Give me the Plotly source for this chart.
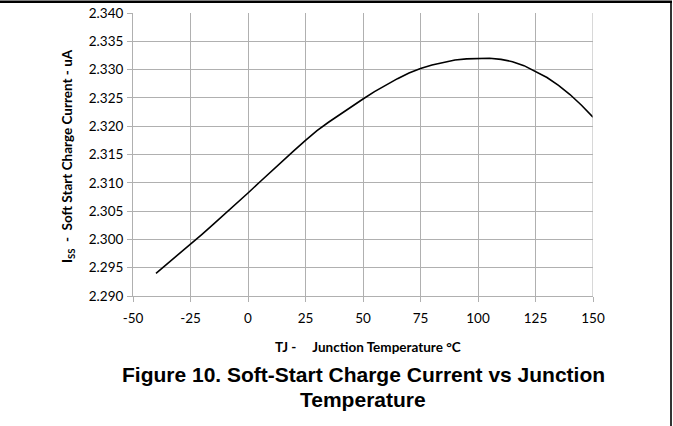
import plotly.graph_objects as go

temps = [-40, -35, -30, -25, -20, -15, -10, -5, 0, 5, 10, 15, 20, 25, 30, 35, 40, 45,
         50, 55, 60, 65, 70, 75, 80, 85, 90, 95, 100, 105, 110, 115, 120, 125, 130,
         135, 140, 145, 150]
iss = [2.2940, 2.2957, 2.2974, 2.2991, 2.3009, 2.3027, 2.3045, 2.3063, 2.3082, 2.3101,
       2.3120, 2.3138, 2.3157, 2.3175, 2.3192, 2.3207, 2.3221, 2.3235, 2.3248, 2.3261,
       2.3273, 2.3284, 2.3294, 2.3302, 2.3308, 2.3313, 2.3317, 2.3319, 2.3320, 2.3320,
       2.3318, 2.3314, 2.3307, 2.3297, 2.3286, 2.3272, 2.3256, 2.3237, 2.3216]

x_ticks = [-50, -25, 0, 25, 50, 75, 100, 125, 150]
y_ticks = [2.290, 2.295, 2.300, 2.305, 2.310, 2.315, 2.320, 2.325, 2.330, 2.335, 2.340]

W, H = 673, 426
L, R, T, B = 133, 80, 13, 130
pw, ph = W - L - R, H - T - B

def px(X):
    return (X - L) / pw

def py(Y):
    return (H - B - Y) / ph

fig = go.Figure()
fig.add_trace(go.Scatter(x=temps, y=iss, mode="lines",
                         line=dict(color="black", width=1.6), showlegend=False))

grid = "#b0b0b0"
tickfont = dict(family="Lato, Carlito, sans-serif", size=13.5, color="black")
fig.update_xaxes(range=[-50, 150], tickvals=x_ticks, ticktext=[str(v) for v in x_ticks],
                 showgrid=True, gridcolor=grid, gridwidth=1,
                 showline=True, linecolor=grid, linewidth=1,
                 ticks="outside", ticklen=5, tickcolor=grid, tickfont=tickfont,
                 ticklabelstandoff=5,
                 zeroline=False, fixedrange=True)
fig.update_yaxes(range=[2.290, 2.340], tickvals=y_ticks,
                 ticktext=[f"{v:.3f}" for v in y_ticks],
                 showgrid=True, gridcolor=grid, gridwidth=1,
                 showline=True, linecolor=grid, linewidth=1,
                 ticks="outside", ticklen=5, tickcolor=grid, tickfont=tickfont,
                 ticklabelstandoff=1,
                 zeroline=False, fixedrange=True)

# right-hand grid edge
fig.add_shape(type="line", xref="x", yref="paper", x0=150, x1=150, y0=0, y1=1,
              line=dict(color=grid, width=1))

title_font = dict(family="Lato, Carlito, sans-serif", size=13.5, color="black", weight=700)
# y axis title
fig.add_annotation(xref="paper", yref="paper", x=px(68), y=py(156),
                   text="I<sub>SS</sub>  -  Soft Start Charge Current - uA",
                   textangle=-90, showarrow=False, xanchor="center", yanchor="middle",
                   font=title_font)
# x axis title
fig.add_annotation(xref="paper", yref="paper", x=px(368), y=py(347),
                   text="TJ -\u00a0\u00a0\u00a0\u00a0 Junction Temperature °C",
                   showarrow=False, xanchor="center", yanchor="middle",
                   font=title_font)
# figure caption
cap_font = dict(family="Liberation Sans, Arial, sans-serif", size=21, color="black",
                weight=700)
fig.add_annotation(xref="paper", yref="paper", x=px(363), y=py(374),
                   text="Figure 10. Soft-Start Charge Current vs Junction",
                   showarrow=False, xanchor="center", yanchor="middle", font=cap_font)
fig.add_annotation(xref="paper", yref="paper", x=px(363), y=py(399),
                   text="Temperature",
                   showarrow=False, xanchor="center", yanchor="middle", font=cap_font)

# page border lines (filled rectangles)
fig.add_shape(type="rect", xref="paper", yref="paper", x0=px(0), x1=px(672),
              y0=py(3), y1=py(0.5), fillcolor="black", line=dict(width=0), layer="above")
fig.add_shape(type="rect", xref="paper", yref="paper", x0=px(670.2), x1=px(671.8),
              y0=py(426), y1=py(1), fillcolor="black", line=dict(width=0), layer="above")

fig.update_layout(width=W, height=H, margin=dict(l=L, r=R, t=T, b=B, autoexpand=False),
                  paper_bgcolor="white", plot_bgcolor="white")

fig.write_html("out.html", config={"displayModeBar": False},
               post_script="document.body.style.margin='0';document.body.style.overflow='hidden';")
